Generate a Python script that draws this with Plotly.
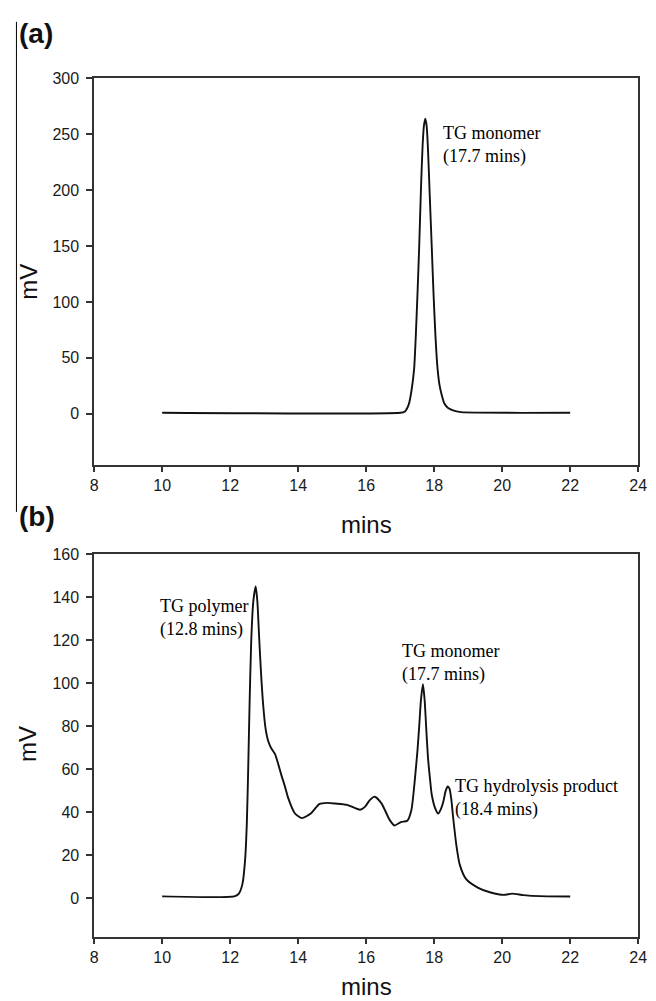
import plotly.graph_objects as go

# Panel (a): TG monomer standard
time_a = [10.0, 17.0, 17.14, 17.25, 17.33, 17.41, 17.46, 17.51, 17.56, 17.61,
          17.66, 17.70, 17.74, 17.78, 17.82, 17.87, 17.93, 17.98, 18.04, 18.10,
          18.16, 18.22, 18.30, 18.41, 18.60, 18.79, 22.0]
mv_a = [0.8, 0.8, 2, 8, 20, 40, 70, 108, 150, 200,
        240, 258, 264, 257, 235, 195, 148, 108, 68, 40,
        25, 17, 9, 5, 2.5, 1.3, 0.8]

# Panel (b): mixture
time_b = [10.0, 12.12, 12.25, 12.36, 12.44, 12.49, 12.53, 12.57, 12.62, 12.68,
          12.75, 12.80, 12.85, 12.91, 12.97, 13.04, 13.12, 13.20, 13.32, 13.42,
          13.51, 13.61, 13.71, 13.90, 14.11, 14.38, 14.62, 14.86, 15.10, 15.44,
          15.82, 15.97, 16.10, 16.25, 16.45, 16.69, 16.83, 17.02, 17.21, 17.33,
          17.40, 17.46, 17.51, 17.56, 17.61, 17.67, 17.72, 17.77, 17.82, 17.88,
          17.93, 18.03, 18.12, 18.20, 18.27, 18.34, 18.40, 18.45, 18.50, 18.56,
          18.65, 18.75, 18.94, 19.28, 19.66, 20.05, 20.29, 20.63, 21.11, 22.0]
mv_b = [0.8, 0.8, 2, 6.5, 18, 35, 60, 90, 120, 138,
        145, 138, 122, 104, 90, 79, 73, 70, 67, 62,
        57, 52, 46.4, 39.5, 37.2, 39.5, 43.7, 44.3, 44.0, 43.4,
        41.1, 42.6, 45.5, 47.2, 44.1, 36.4, 33.8, 35.4, 36, 41,
        50, 60, 69, 80, 92, 99.5, 92, 78, 65, 55,
        48, 41.8, 39.3, 41.5, 45, 50, 52, 51, 46.5, 37.2,
        24.9, 15.7, 8.8, 4.9, 2.6, 1.5, 2.1, 1.4, 0.9, 0.75]

x_ticks = [8, 10, 12, 14, 16, 18, 20, 22, 24]
y_ticks_a = [0, 50, 100, 150, 200, 250, 300]
y_ticks_b = [0, 20, 40, 60, 80, 100, 120, 140, 160]

W, H = 656, 1001
LINE = "#111111"
AX = "#333333"
TICKFONT = dict(family="Liberation Sans, Arial, sans-serif", size=16, color="#1a1a1a")
SERIF = dict(family="Liberation Serif, Times New Roman, serif", size=18, color="#000000")

fig = go.Figure()
fig.add_trace(go.Scatter(x=time_a, y=mv_a, mode="lines", xaxis="x", yaxis="y",
                         line=dict(color=LINE, width=1.9, shape="spline", smoothing=0.6),
                         showlegend=False, hoverinfo="skip"))
fig.add_trace(go.Scatter(x=time_b, y=mv_b, mode="lines", xaxis="x2", yaxis="y2",
                         line=dict(color=LINE, width=1.9, shape="spline", smoothing=0.6),
                         showlegend=False, hoverinfo="skip"))

xdom = [92 / W, 647 / W]
ydom_a = [1 - 460.7 / H, 1 - 71 / H]
ydom_b = [1 - 936.7 / H, 1 - 550.7 / H]

common_x = dict(range=[8, 24], tickvals=x_ticks, ticks="outside", ticklen=5, tickwidth=1.5,
                tickcolor=AX, showline=True, linecolor=AX, linewidth=1.6, mirror=True,
                showgrid=False, zeroline=False, tickfont=TICKFONT, domain=xdom)
common_y = dict(ticks="outside", ticklen=6, tickwidth=1.5, tickcolor=AX, showline=True,
                linecolor=AX, linewidth=1.6, mirror=True, showgrid=False, zeroline=False,
                tickfont=TICKFONT, ticklabelstandoff=4)

fig.update_layout(
    width=W, height=H, margin=dict(l=0, r=0, t=0, b=0),
    paper_bgcolor="white", plot_bgcolor="white",
    xaxis=dict(anchor="y", **common_x),
    yaxis=dict(anchor="x", range=[-46, 300], tickvals=y_ticks_a, domain=ydom_a, **common_y),
    xaxis2=dict(anchor="y2", **common_x),
    yaxis2=dict(anchor="x2", range=[-18.2, 160], tickvals=y_ticks_b, domain=ydom_b, **common_y),
)

ann = []
# peak labels
ann.append(dict(x=18.2, y=240.5, xref="x", yref="y", text="TG monomer<br>(17.7 mins)",
                showarrow=False, xanchor="left", yanchor="middle", align="left", font=SERIF))
ann.append(dict(x=9.87, y=130.5, xref="x2", yref="y2", text="TG polymer<br>(12.8 mins)",
                showarrow=False, xanchor="left", yanchor="middle", align="left", font=SERIF))
ann.append(dict(x=16.99, y=109.5, xref="x2", yref="y2", text="TG monomer<br>(17.7 mins)",
                showarrow=False, xanchor="left", yanchor="middle", align="left", font=SERIF))
ann.append(dict(x=18.55, y=46.8, xref="x2", yref="y2", text="TG hydrolysis product<br>(18.4 mins)",
                showarrow=False, xanchor="left", yanchor="middle", align="left", font=SERIF))

TITLEFONT = dict(family="Liberation Sans, Arial, sans-serif", size=24, color="#111111")
# axis titles
ann.append(dict(x=25.5 / W, y=1 - 276 / H, xref="paper", yref="paper", text="mV", textangle=-90,
                showarrow=False, xanchor="center", yanchor="middle", font=TITLEFONT))
ann.append(dict(x=23.5 / W, y=1 - 742 / H, xref="paper", yref="paper", text="mV", textangle=-90,
                showarrow=False, xanchor="center", yanchor="middle", font=TITLEFONT))
ann.append(dict(x=370 / W, y=1 - 521 / H, xref="paper", yref="paper", text="mins",
                showarrow=False, xanchor="center", yanchor="middle", font=TITLEFONT))
ann.append(dict(x=370 / W, y=0, xref="paper", yref="paper", text="mins", borderpad=0,
                showarrow=False, xanchor="center", yanchor="bottom", font=TITLEFONT))
# panel labels
PANEL = dict(family="Liberation Sans, Arial, sans-serif", size=28, color="#111111")
ann.append(dict(x=13 / W, y=1 - 26 / H, xref="paper", yref="paper", text="<b>(a)</b>",
                showarrow=False, xanchor="left", yanchor="middle", font=PANEL))
ann.append(dict(x=13 / W, y=1 - 513 / H, xref="paper", yref="paper", text="<b>(b)</b>",
                showarrow=False, xanchor="left", yanchor="middle", font=PANEL))
fig.update_layout(annotations=ann)

# thin vertical border line at the far left
fig.add_shape(type="line", xref="paper", yref="paper", x0=12.7 / W, x1=12.7 / W,
              y0=1 - 14 / H, y1=1 - 508 / H, line=dict(color="#000000", width=1))

fig.write_html("out.html")
